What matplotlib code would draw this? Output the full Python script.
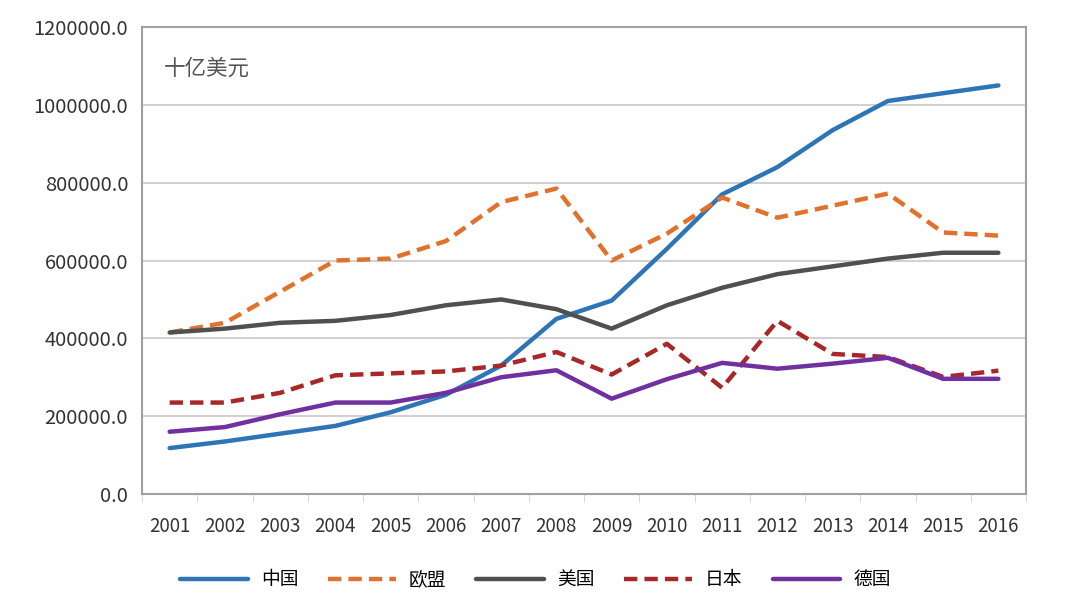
import matplotlib.pyplot as plt
from matplotlib.ticker import FixedLocator, FuncFormatter

plt.rcParams['font.family'] = ['Noto Sans CJK SC', 'DejaVu Sans']

years = [str(y) for y in range(2001, 2017)]
china = [118000, 135000, 155000, 175000, 210000, 255000, 330000, 450000,
         497000, 630000, 770000, 840000, 935000, 1010000, 1030000, 1050000]
eu = [415000, 440000, 520000, 600000, 605000, 650000, 750000, 785000,
      600000, 669000, 762000, 710000, 741000, 772000, 672000, 664000]
usa = [415000, 425000, 440000, 445000, 460000, 485000, 500000, 475000,
       425000, 485000, 530000, 565000, 585000, 605000, 620000, 620000]
japan = [235000, 235000, 260000, 305000, 310000, 315000, 330000, 365000,
         307000, 386000, 273000, 445000, 360000, 352000, 301000, 317000]
germany = [160000, 172000, 205000, 235000, 235000, 260000, 300000, 318000,
           245000, 295000, 337000, 322000, 335000, 350000, 296000, 296000]

fig = plt.figure(figsize=(10.8, 6.08), dpi=100)
ax = fig.add_axes([0.1315, 0.1875, 0.8185, 0.768])

x = range(len(years))
ax.plot(x, china, color="#2E75B6", lw=3.2, label="中国", solid_capstyle="round")
ax.plot(x, eu, color="#E2712B", lw=3.2, ls=(0, (3, 1.6)), label="欧盟")
ax.plot(x, usa, color="#505050", lw=3.2, label="美国", solid_capstyle="round")
ax.plot(x, japan, color="#A8282A", lw=3.2, ls=(0, (3, 1.6)), label="日本")
ax.plot(x, germany, color="#7030A0", lw=3.2, label="德国", solid_capstyle="round")

ax.set_xlim(-0.5, len(years) - 0.5)
ax.set_ylim(0, 1200000)
ax.set_yticks(range(0, 1200001, 200000))
ax.yaxis.set_major_formatter(FuncFormatter(lambda v, p: "%.1f" % v))
ax.set_xticks(list(x))
ax.set_xticklabels(years)
ax.xaxis.set_minor_locator(FixedLocator([i - 0.5 for i in range(len(years) + 1)]))
ax.tick_params(axis="x", which="major", length=0, pad=16, labelsize=13.5, colors="#333333")
ax.tick_params(axis="x", which="minor", length=6, color="#d0d0d0")
ax.tick_params(axis="y", length=0, pad=10, labelsize=14.5, colors="#333333")

ax.grid(axis="y", color="#c8c8c8", lw=1.2)
ax.set_axisbelow(True)
for s in ax.spines.values():
    s.set_color("#a0a0a0")
    s.set_linewidth(1.5)

ax.text(0.025, 0.91, "十亿美元", transform=ax.transAxes, fontsize=15.5,
        color="#555555", va="center")

ax.legend(loc="upper center", bbox_to_anchor=(0.445, -0.125), ncol=5, frameon=False,
          fontsize=13.5, handlelength=3.6, columnspacing=1.6, handletextpad=0.7)

fig.savefig("out.png", dpi=100)
